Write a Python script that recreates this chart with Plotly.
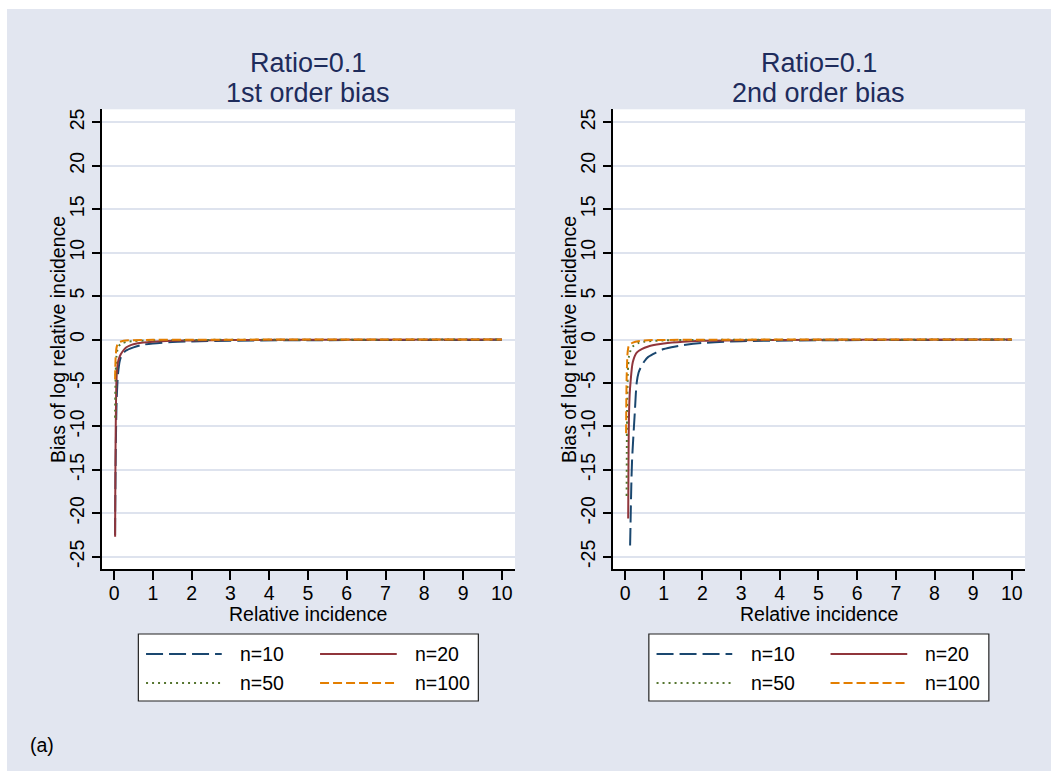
import plotly.graph_objects as go

W, H = 1051, 771
FONT = "Liberation Sans, Arial, sans-serif"
BG = "#E2E6F0"
GRID = "#DEE3EE"
NAVY_T = "#1E2C5C"

# ---------------- data ----------------
labels = ["n=10", "n=20", "n=50", "n=100"]
colors = ["#1A476F", "#90353B", "#55752F", "#E37E00"]
dashes = ["17px,6px", "solid", "2px,4px", "9px,4px"]

y_ticks = [-25, -20, -15, -10, -5, 0, 5, 10, 15, 20, 25]
x_ticks = list(range(0, 11))

# Panel 1: 1st order bias
p1_n10_x = [0.025, 0.03, 0.04, 0.05, 0.06, 0.07, 0.08, 0.1, 0.15, 0.2, 0.3, 0.5, 0.75, 1, 1.5, 2, 3, 5, 10]
p1_n10_y = [-22.5, -19, -14, -10.5, -8, -6.5, -5.5, -4, -2.4, -1.8, -1.3, -0.9, -0.6, -0.45, -0.3, -0.22, -0.14, -0.08, -0.04]
p1_n20_x = [0.026, 0.03, 0.035, 0.04, 0.05, 0.06, 0.08, 0.1, 0.15, 0.2, 0.3, 0.4, 0.5, 0.75, 1, 1.5, 2, 3, 5, 10]
p1_n20_y = [-22.7, -18, -14, -11, -7, -4.8, -3.3, -2.6, -1.9, -1.5, -0.95, -0.7, -0.55, -0.35, -0.25, -0.15, -0.1, -0.06, -0.03, -0.01]
p1_n50_x = [0.025, 0.03, 0.04, 0.05, 0.06, 0.08, 0.1, 0.15, 0.2, 0.3, 0.5, 1, 2, 5, 10]
p1_n50_y = [-9, -6.5, -4, -2.8, -2.0, -1.3, -0.95, -0.6, -0.45, -0.3, -0.18, -0.09, -0.05, -0.02, -0.01]
p1_n100_x = [0.025, 0.03, 0.04, 0.05, 0.06, 0.08, 0.1, 0.15, 0.2, 0.3, 0.5, 1, 2, 5, 10]
p1_n100_y = [-4.6, -3.3, -2.0, -1.4, -1.0, -0.65, -0.45, -0.28, -0.2, -0.12, -0.07, -0.035, -0.02, -0.008, -0.004]

# Panel 2: 2nd order bias
p2_n10_x = [0.13, 0.14, 0.16, 0.18, 0.21, 0.25, 0.3, 0.35, 0.43, 0.5, 0.6, 0.8, 1.0, 1.34, 1.5, 2, 3, 5, 10]
p2_n10_y = [-23.7, -21.5, -17, -14, -11.5, -8.5, -5, -3.8, -3.0, -2.5, -2.0, -1.5, -1.1, -0.77, -0.65, -0.4, -0.2, -0.09, -0.03]
p2_n20_x = [0.08, 0.085, 0.09, 0.1, 0.12, 0.14, 0.2, 0.3, 0.43, 0.6, 0.82, 1.0, 1.5, 2, 3, 5, 10]
p2_n20_y = [-20.6, -17, -13, -9, -6.2, -5, -2.6, -1.5, -1.1, -0.8, -0.58, -0.45, -0.25, -0.15, -0.08, -0.03, -0.01]
p2_n50_x = [0.04, 0.045, 0.05, 0.06, 0.07, 0.08, 0.1, 0.13, 0.2, 0.34, 0.5, 1, 2, 5, 10]
p2_n50_y = [-18, -13, -9, -6, -4, -3, -2, -1.4, -0.8, -0.4, -0.25, -0.1, -0.05, -0.02, -0.01]
p2_n100_x = [0.026, 0.03, 0.035, 0.04, 0.05, 0.06, 0.08, 0.1, 0.2, 0.5, 1, 2, 5, 10]
p2_n100_y = [-10.8, -8, -6, -4.5, -3, -1.8, -1.0, -0.7, -0.35, -0.1, -0.05, -0.02, -0.01, 0]

panel_titles = [("Ratio=0.1", "1st order bias"), ("Ratio=0.1", "2nd order bias")]
x_title = "Relative incidence"
y_title = "Bias of log relative incidence"
note = "(a)"

panels = [
    [(p1_n10_x, p1_n10_y), (p1_n20_x, p1_n20_y), (p1_n50_x, p1_n50_y), (p1_n100_x, p1_n100_y)],
    [(p2_n10_x, p2_n10_y), (p2_n20_x, p2_n20_y), (p2_n50_x, p2_n50_y), (p2_n100_x, p2_n100_y)],
]

# ---------------- layout geometry (pixels) ----------------
plot_left = [101.7, 612.7]
plot_right = [515.0, 1025.0]
plot_top, plot_bottom = 109.3, 569.3

def px(x):
    return x / W

def py(y):
    return 1 - y / H

fig = go.Figure()

for pi, series in enumerate(panels):
    xa = "x" if pi == 0 else "x2"
    ya = "y" if pi == 0 else "y2"
    for si, (xs, ys) in enumerate(series):
        fig.add_trace(go.Scatter(
            x=xs, y=ys, mode="lines", xaxis=xa, yaxis=ya,
            name=labels[si], showlegend=False,
            line=dict(color=colors[si], width=2, dash=dashes[si], shape="spline", smoothing=0.8),
        ))

axis_common_x = dict(
    range=[-0.32, 10.34], tickvals=x_ticks, ticktext=[str(v) for v in x_ticks],
    showgrid=False, zeroline=False, showline=True, linecolor="black", linewidth=1.5,
    ticks="outside", ticklen=9, tickwidth=1.5, tickcolor="black", ticklabelstandoff=-3,
    tickfont=dict(family=FONT, size=19.5, color="black"),
)
axis_common_y = dict(
    range=[-26.45, 26.5], tickvals=y_ticks, ticktext=[str(v) for v in y_ticks],
    showgrid=True, gridcolor=GRID, gridwidth=1.5, zeroline=False,
    showline=True, linecolor="black", linewidth=1.5,
    ticks="outside", ticklen=8, tickwidth=1.5, tickcolor="black", tickangle=-90,
    ticklabelstandoff=0,
    tickfont=dict(family=FONT, size=19.5, color="black"),
    domain=[py(plot_bottom), py(plot_top)],
)

fig.update_layout(
    width=W, height=H, margin=dict(l=0, r=0, t=0, b=0),
    paper_bgcolor=BG, plot_bgcolor="white",
    font=dict(family=FONT, size=19.5, color="black"),
    xaxis=dict(axis_common_x, domain=[px(plot_left[0]), px(plot_right[0])], anchor="y"),
    yaxis=dict(axis_common_y, anchor="x"),
    xaxis2=dict(axis_common_x, domain=[px(plot_left[1]), px(plot_right[1])], anchor="y2"),
    yaxis2=dict(axis_common_y, anchor="x2"),
)

shapes = []
annotations = []
# white outer strips (top and left)
shapes.append(dict(type="rect", xref="paper", yref="paper", x0=0, x1=1, y0=py(9), y1=1,
                   fillcolor="white", line=dict(width=0), layer="above"))
shapes.append(dict(type="rect", xref="paper", yref="paper", x0=0, x1=px(7), y0=0, y1=1,
                   fillcolor="white", line=dict(width=0), layer="above"))

for pi in range(2):
    cx = (plot_left[pi] + plot_right[pi]) / 2
    t1, t2 = panel_titles[pi]
    annotations.append(dict(text=t1, x=px(cx), y=py(63), xref="paper", yref="paper",
                            showarrow=False, xanchor="center", yanchor="middle",
                            font=dict(family=FONT, size=27, color=NAVY_T)))
    annotations.append(dict(text=t2, x=px(cx), y=py(92.7), xref="paper", yref="paper",
                            showarrow=False, xanchor="center", yanchor="middle",
                            font=dict(family=FONT, size=27, color=NAVY_T)))
    annotations.append(dict(text=x_title, x=px(cx), y=py(613.5), xref="paper", yref="paper",
                            showarrow=False, xanchor="center", yanchor="middle",
                            font=dict(family=FONT, size=19.5, color="black")))
    annotations.append(dict(text=y_title, x=px(plot_left[pi] - 43.0), y=py((plot_top + plot_bottom) / 2),
                            xref="paper", yref="paper", showarrow=False, textangle=-90,
                            xanchor="center", yanchor="middle",
                            font=dict(family=FONT, size=19.5, color="black")))
    # legend box
    lx0 = cx - 170.0
    lx1 = cx + 170.0
    shapes.append(dict(type="rect", xref="paper", yref="paper", x0=px(lx0), x1=px(lx1),
                       y0=py(701), y1=py(634), fillcolor="white",
                       line=dict(color="#222222", width=1.2), layer="above"))
    rows = [654, 683]
    cols = [(lx0 + 7.7, lx0 + 83.4, lx0 + 100.0), (lx0 + 181.7, lx0 + 258.4, lx0 + 274.4)]
    for si in range(4):
        r = si // 2
        c = si % 2
        a, b, t = cols[c]
        shapes.append(dict(type="line", xref="paper", yref="paper", x0=px(a), x1=px(b),
                           y0=py(rows[r]), y1=py(rows[r]),
                           line=dict(color=colors[si], width=2, dash=dashes[si]), layer="above"))
        annotations.append(dict(text=labels[si], x=px(t), y=py(rows[r]), xref="paper", yref="paper",
                                showarrow=False, xanchor="left", yanchor="middle",
                                font=dict(family=FONT, size=19.5, color="black")))

annotations.append(dict(text=note, x=px(28), y=py(745), xref="paper", yref="paper",
                        showarrow=False, xanchor="left", yanchor="middle",
                        font=dict(family=FONT, size=19.5, color="black")))

fig.update_layout(shapes=shapes, annotations=annotations)
fig.write_html("out.html")
